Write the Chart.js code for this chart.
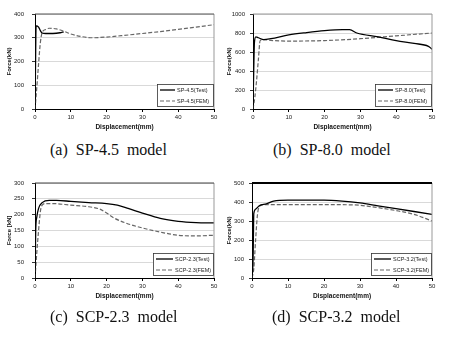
<!DOCTYPE html>
<html>
<head>
<meta charset="utf-8">
<script src="https://cdn.jsdelivr.net/npm/chart.js@4"></script>
<style>
  body { margin: 0; background: #fff; width: 450px; height: 341px; position: relative; overflow: hidden; }
  .panel { position: absolute; width: 225px; height: 140px; }
  .cap { position: absolute; font-family: "Liberation Serif", serif; font-size: 16px; color: #111; white-space: pre; }
</style>
</head>
<body>
<div class="panel" style="left:0;top:0"><canvas id="chartA" width="225" height="140"></canvas></div>
<div class="panel" style="left:225px;top:0"><canvas id="chartB" width="225" height="140"></canvas></div>
<div class="panel" style="left:0;top:169px"><canvas id="chartC" width="225" height="140"></canvas></div>
<div class="panel" style="left:225px;top:169px"><canvas id="chartD" width="225" height="140"></canvas></div>
<div class="cap" style="left:50px;top:141px">(a)  SP-4.5  model</div>
<div class="cap" style="left:273px;top:141px">(b)  SP-8.0  model</div>
<div class="cap" style="left:50px;top:308px">(c)  SCP-2.3  model</div>
<div class="cap" style="left:272px;top:308px">(d)  SCP-3.2  model</div>
<script>
// (a) SP-4.5
const aTestX = [0, 0.1, 0.2, 0.3, 1, 1.5, 2, 3, 5, 7, 8];
const aTestY = [0, 120, 260, 350, 345, 330, 320, 318, 318, 321, 325];
const aFemX = [0, 0.5, 1, 1.5, 2, 3, 4, 6, 8, 10, 13, 16, 20, 25, 30, 35, 40, 45, 50];
const aFemY = [0, 90, 190, 280, 322, 335, 340, 337, 328, 316, 305, 300, 303, 310, 318, 326, 335, 345, 355];

// (b) SP-8.0
const bTestX = [0, 0.2, 0.4, 0.8, 1.5, 3, 5, 10, 15, 20, 25, 27, 29, 35, 40, 45, 49, 50];
const bTestY = [0, 400, 700, 760, 750, 730, 740, 780, 805, 825, 835, 835, 800, 760, 720, 690, 660, 630];
const bFemX = [0, 0.5, 1, 1.5, 2, 3, 5, 10, 20, 30, 40, 50];
const bFemY = [0, 120, 300, 520, 720, 730, 722, 715, 720, 740, 770, 800];

// (c) SCP-2.3
const cTestX = [0, 0.2, 0.5, 1, 2, 4, 6, 10, 15, 20, 23, 26, 30, 35, 40, 45, 50];
const cTestY = [0, 150, 192, 220, 238, 245, 245, 242, 238, 235, 230, 220, 205, 188, 179, 175, 174];
const cFemX = [0, 0.5, 1, 1.5, 2, 3, 5, 10, 15, 18, 20, 22, 25, 30, 35, 40, 45, 50];
const cFemY = [0, 80, 150, 210, 230, 235, 235, 230, 225, 218, 205, 190, 175, 158, 145, 135, 133, 135];

// (d) SCP-3.2
const dTestX = [0, 0.3, 0.5, 1, 2, 4, 6, 10, 20, 25, 30, 35, 40, 45, 50];
const dTestY = [0, 100, 340, 362, 380, 390, 405, 410, 410, 405, 395, 380, 365, 350, 335];
const dFemX = [0, 0.5, 1, 1.5, 2, 3, 5, 10, 20, 28, 32, 40, 45, 50];
const dFemY = [0, 50, 200, 330, 375, 385, 386, 386, 386, 385, 378, 355, 335, 300];

const xTicks = [0, 10, 20, 30, 40, 50];

function pts(xs, ys) {
    return xs.map((x, i) => ({ x: x, y: ys[i] }));
}

// draws the plot frame (top/right) and the legend box inside the plot
const framePlugin = {
    id: 'frameLegend',
    afterDraw(chart, args, opts) {
        const ctx = chart.ctx;
        const a = chart.chartArea;
        ctx.save();
        ctx.strokeStyle = '#999';
        ctx.lineWidth = 1;
        ctx.beginPath();
        ctx.moveTo(a.right, a.top);
        ctx.lineTo(a.right, a.bottom);
        ctx.stroke();
        ctx.strokeStyle = opts.topColor;
        ctx.lineWidth = opts.topWidth;
        ctx.beginPath();
        ctx.moveTo(a.left, a.top);
        ctx.lineTo(a.right, a.top);
        ctx.stroke();

        // legend
        const w = opts.boxW, h = 22;
        const bx = a.right - w - 1, by = a.bottom - h - 3;
        ctx.fillStyle = '#fff';
        ctx.fillRect(bx, by, w, h);
        ctx.strokeStyle = '#333';
        ctx.lineWidth = 0.8;
        ctx.strokeRect(bx + 0.5, by + 0.5, w, h);
        chart.data.datasets.forEach((ds, i) => {
            const ly = by + 6 + i * 11;
            ctx.strokeStyle = ds.borderColor;
            ctx.lineWidth = ds.borderWidth;
            ctx.setLineDash(ds.borderDash || []);
            ctx.beginPath();
            ctx.moveTo(bx + 3, ly);
            ctx.lineTo(bx + 3 + opts.lineLen, ly);
            ctx.stroke();
            ctx.setLineDash([]);
            ctx.fillStyle = '#222';
            ctx.font = '5.5px "Liberation Sans", Arial, sans-serif';
            ctx.textBaseline = 'middle';
            ctx.fillText(ds.label, bx + opts.lineLen + 5, ly);
        });
        ctx.restore();
    }
};

function makeChart(id, name, test, fem, yMax, yStep, yTitle, padR, yw, titlePad, tickPad, topColor, topWidth, boxW, lineLen) {
    new Chart(document.getElementById(id), {
        type: 'line',
        data: {
            datasets: [
                { label: name + '(Test)', data: test, borderColor: '#000', borderWidth: 1.3,
                  pointRadius: 0, cubicInterpolationMode: 'monotone', fill: false },
                { label: name + '(FEM)', data: fem, borderColor: '#666', borderWidth: 1.2, borderDash: [4, 2],
                  pointRadius: 0, cubicInterpolationMode: 'monotone', fill: false }
            ]
        },
        options: {
            responsive: false,
            animation: false,
            layout: { padding: { left: 0, right: padR, top: 14, bottom: 0 } },
            plugins: {
                legend: { display: false },
                tooltip: { enabled: false },
                frameLegend: { topColor: topColor, topWidth: topWidth, boxW: boxW, lineLen: lineLen }
            },
            scales: {
                x: {
                    type: 'linear', min: 0, max: 50,
                    afterBuildTicks: s => { s.ticks = xTicks.map(v => ({ value: v })); },
                    afterFit: s => { s.height = 31; },
                    border: { color: '#000', width: 1 },
                    grid: { drawOnChartArea: false, tickLength: 3, tickColor: '#000' },
                    ticks: { color: '#222', font: { family: 'Liberation Sans', size: 6 }, padding: 2, maxRotation: 0 },
                    title: { display: true, text: 'Displacement(mm)', color: '#111',
                             font: { family: 'Liberation Sans', size: 6.5, weight: 'bold' }, padding: { top: 0, bottom: 9 } }
                },
                y: {
                    min: 0, max: yMax,
                    afterFit: s => { s.width = yw; },
                    border: { color: '#000', width: 1 },
                    grid: { color: '#cfcfcf', lineWidth: 0.8, tickLength: 3, tickColor: '#000' },
                    ticks: { stepSize: yStep, color: '#222', font: { family: 'Liberation Sans', size: 6 }, padding: tickPad,
                             callback: v => String(v) },
                    title: { display: true, text: yTitle, color: '#111',
                             font: { family: 'Liberation Sans', size: 6, weight: 'bold' }, padding: { top: titlePad, bottom: 0 } }
                }
            }
        },
        plugins: [framePlugin]
    });
}

makeChart('chartA', 'SP-4.5', pts(aTestX, aTestY), pts(aFemX, aFemY), 400, 100, 'Force(kN)', 11, 35, 6, 8, '#555', 1.2, 56, 15);
makeChart('chartB', 'SP-8.0', pts(bTestX, bTestY), pts(bFemX, bFemY), 1000, 200, 'Force(kN)', 18, 28, 1, 5, '#999', 1, 56, 15);
makeChart('chartC', 'SCP-2.3', pts(cTestX, cTestY), pts(cFemX, cFemY), 300, 50, 'Force [kN]', 11, 35, 6, 8, '#444', 1.2, 60, 17);
makeChart('chartD', 'SCP-3.2', pts(dTestX, dTestY), pts(dFemX, dFemY), 500, 100, 'Force(kN)', 18, 27, 1, 5, '#000', 2, 60, 17);
</script>
</body>
</html>
